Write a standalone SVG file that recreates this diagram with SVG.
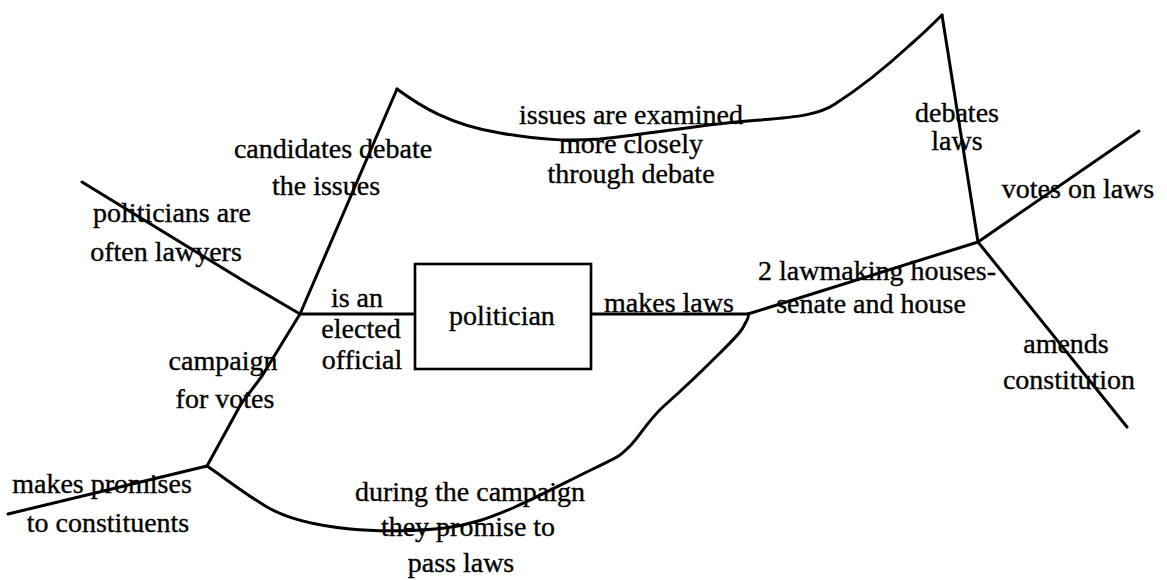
<svg xmlns="http://www.w3.org/2000/svg" width="1167" height="580" viewBox="0 0 1167 580">
  <style>
    .bg { fill: #ffffff; }
    .ln { fill: none; stroke: #000; stroke-width: 3; stroke-linecap: round; stroke-linejoin: round; }
    .box { fill: #fff; stroke: #000; stroke-width: 2.6; }
    text { font-family: "Liberation Serif", "Times New Roman", serif; font-size: 28px; fill: #000; stroke: #000; stroke-width: 0.35; text-anchor: middle; }
  </style>
  <rect class="bg" x="0" y="0" width="1167" height="580"/>

  <!-- branches of the concept map -->
  <g id="connectors">
    <!-- left spine -->
    <path class="ln" d="M397,89 L300,314"/>
    <path class="ln" d="M300,314 L262,376 L241,404 L207,466"/>
    <path class="ln" d="M82,182 L247,283 L300,314"/>
    <path class="ln" d="M8,514 L207,466"/>
    <path class="ln" d="M300,314 L415,314"/>
    <!-- top loop: candidates debate -> debates laws -->
    <path class="ln" d="M397,89 C420,106 450,125 500,133 C540,140 565,141 600,139 C660,133 700,124 760,120 C800,117 820,114 835,104 C860,88 885,68 910,45 C925,32 935,22 942,15"/>
    <path class="ln" d="M942,15 L978,242"/>
    <!-- right side -->
    <path class="ln" d="M591,314 L748,314"/>
    <path class="ln" d="M748,314 L978,242"/>
    <path class="ln" d="M978,242 L1139,131"/>
    <path class="ln" d="M978,242 L1127,427"/>
    <!-- bottom loop: promises -> makes laws -->
    <path class="ln" d="M207,466 C222,476 245,494 267,507 S320,526 350,529 S420,531 445,528 S490,518 515,507 S570,480 595,468 S620,456 630,446 S648,420 665,405 S705,368 723,350 S742,330 746,322 S748,316 748,314"/>
  </g>

  <g id="node-politician">
    <rect class="box" x="415" y="264" width="176" height="105"/>
    <text x="502" y="325">politician</text>
  </g>

  <g id="label-elected">
    <text x="357" y="307">is an</text>
    <text x="361" y="338">elected</text>
    <text x="362" y="369">official</text>
  </g>

  <g id="label-lawyers">
    <text x="172" y="222">politicians are</text>
    <text x="166" y="261">often lawyers</text>
  </g>

  <g id="label-candidates">
    <text x="333" y="158">candidates debate</text>
    <text x="326" y="195">the issues</text>
  </g>

  <g id="label-examined">
    <text x="631" y="124">issues are examined</text>
    <text x="631" y="153">more closely</text>
    <text x="631" y="183">through debate</text>
  </g>

  <g id="label-debates">
    <text x="957" y="122">debates</text>
    <text x="957" y="150">laws</text>
  </g>

  <g id="label-votes">
    <text x="1078" y="198">votes on laws</text>
  </g>

  <g id="label-houses">
    <text x="877" y="280">2 lawmaking houses-</text>
    <text x="871" y="313">senate and house</text>
  </g>

  <g id="label-amends">
    <text x="1066" y="353">amends</text>
    <text x="1069" y="389">constitution</text>
  </g>

  <g id="label-makes-laws">
    <text x="669" y="312">makes laws</text>
  </g>

  <g id="label-campaign">
    <text x="223" y="370">campaign</text>
    <text x="225" y="408">for votes</text>
  </g>

  <g id="label-promises">
    <text x="102" y="493">makes promises</text>
    <text x="108" y="532">to constituents</text>
  </g>

  <g id="label-during">
    <text x="470" y="501">during the campaign</text>
    <text x="468" y="536">they promise to</text>
    <text x="461" y="572">pass laws</text>
  </g>
</svg>
